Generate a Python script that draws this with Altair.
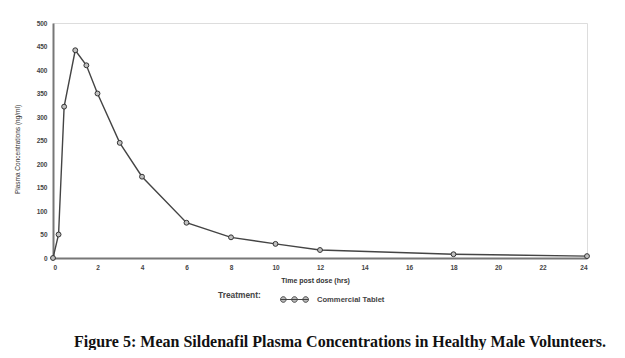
import altair as alt
import pandas as pd

time_hrs = [0, 0.25, 0.5, 1, 1.5, 2, 3, 4, 6, 8, 10, 12, 18, 24]
conc = [0, 50, 322, 442, 410, 350, 245, 173, 75, 44, 30, 17, 8, 4]
treatment = "Commercial Tablet"
x_ticks = list(range(0, 25, 2))
y_ticks = list(range(0, 501, 50))
caption = "Figure 5: Mean Sildenafil Plasma Concentrations in Healthy Male Volunteers."

df = pd.DataFrame({"t": time_hrs, "c": conc, "Treatment": [treatment] * len(time_hrs)})

r = 0.2
def circ(cx):
    return f"M{cx - r},0A{r},{r} 0 1,0 {cx + r},0A{r},{r} 0 1,0 {cx - r},0Z"
sym = "M-1,0L1,0" + circ(-0.8) + circ(0) + circ(0.8)

W, H = 534, 235

x = alt.X("t:Q", scale=alt.Scale(domain=[0, 24], nice=False),
          axis=alt.Axis(values=x_ticks, title="Time post dose (hrs)", grid=False, ticks=False,
                        domainColor="#777", domainWidth=2, labelPadding=6, labelOverlap=False,
                        labelFont="Liberation Sans", labelFontSize=6.5, labelFontWeight="bold",
                        labelColor="#444", titleFont="Liberation Sans", titleFontSize=7,
                        titleFontWeight="bold", titleColor="#333", titleX=262, titleY=18,
                        titleAnchor="middle"))
y = alt.Y("c:Q", scale=alt.Scale(domain=[0, 500], nice=False),
          axis=alt.Axis(values=y_ticks, title="Plasma Concentrations (ng/ml)", grid=False, ticks=False,
                        domainColor="#777", domainWidth=2, labelPadding=6, labelOverlap=False,
                        labelFont="Liberation Sans", labelFontSize=6.5, labelFontWeight="bold",
                        labelColor="#444", titleFont="Liberation Sans", titleFontSize=6.5,
                        titleFontWeight="normal", titleColor="#333", titleX=-33, titleY=126,
                        titleAnchor="middle"))

color = alt.Color("Treatment:N", scale=alt.Scale(range=["#444444"]),
                  legend=alt.Legend(title="Treatment:", orient="none", legendX=165, legendY=262,
                                    titleOrient="left", titlePadding=19, symbolType=sym,
                                    symbolSize=784, symbolStrokeWidth=1, symbolFillColor="#bbbbbb",
                                    symbolStrokeColor="#333333",
                                    labelOffset=8, labelFont="Liberation Sans", labelFontSize=7.6,
                                    labelFontWeight="bold", labelColor="#444",
                                    titleFont="Liberation Sans", titleFontSize=8.4,
                                    titleFontWeight="bold", titleColor="#444"))

base = alt.Chart(df).encode(x=x, y=y)
line = base.mark_line(strokeWidth=1.4).encode(color=color)
pts = base.mark_point(filled=True, fill="#c0c0c0", stroke="#333333", strokeWidth=1,
                      size=24, opacity=1)

cap = alt.Chart(pd.DataFrame({"txt": [caption]})).mark_text(
    font="Liberation Serif", fontSize=16, fontWeight="bold", color="#111", align="center",
    baseline="middle").encode(x=alt.value(287), y=alt.value(319), text="txt:N")

chart = (line + pts + cap).properties(
    width=W, height=H,
    autosize=alt.AutoSizeParams(type="none"),
    padding={"left": 45, "top": 15, "right": 20, "bottom": 92},
).configure_view(stroke=None).configure(background="white")

chart.save("out.html", embed_options={"renderer": "svg", "actions": False})
